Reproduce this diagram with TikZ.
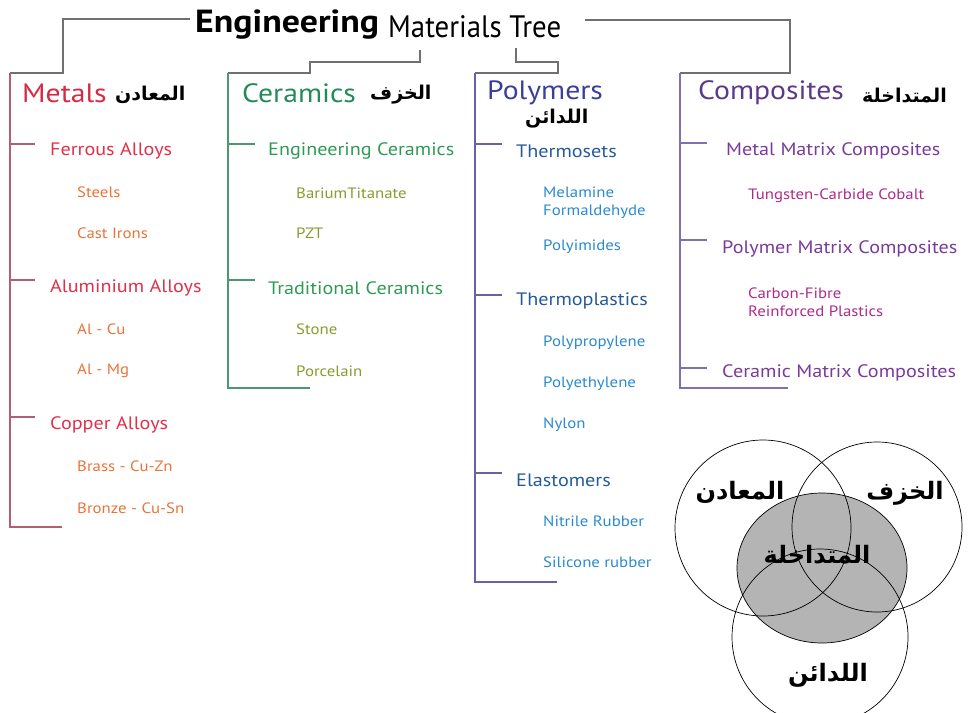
\documentclass[tikz,border=0pt]{standalone}
\usepackage{fontspec}
\setmainfont[FakeStretch=1.12]{PT Sans}
\newfontfamily\arabicfont[Script=Arabic]{DejaVu Sans}
\TeXXeTstate=1
\usetikzlibrary{shapes.geometric}
\newcommand{\artxt}[1]{{\arabicfont\bfseries\beginR #1\endR}}

% colours of the four families
\definecolor{linkgray}{HTML}{707070}
\definecolor{metTrunk}{HTML}{B06070}
\definecolor{metHead}{HTML}{D42A45}
\definecolor{metCat}{HTML}{E0304A}
\definecolor{metItem}{HTML}{E8743A}
\definecolor{cerTrunk}{HTML}{4A9A70}
\definecolor{cerHead}{HTML}{238A5A}
\definecolor{cerCat}{HTML}{2F9A55}
\definecolor{cerItem}{HTML}{8A9A30}
\definecolor{polTrunk}{HTML}{6A60A8}
\definecolor{polHead}{HTML}{3B3F9A}
\definecolor{polCat}{HTML}{245A9A}
\definecolor{polItem}{HTML}{2A8AD0}
\definecolor{comTrunk}{HTML}{8070B0}
\definecolor{comHead}{HTML}{5A3A8A}
\definecolor{comCat}{HTML}{7A3A9A}
\definecolor{comItem}{HTML}{B02A8A}
\definecolor{venngray}{HTML}{B4B4B4}

\tikzset{
  head/.style={anchor=west, inner sep=0pt, font=\fontsize{26.5}{28}\selectfont},
  cat/.style={anchor=west, inner sep=0pt, font=\fontsize{18}{20}\selectfont},
  item/.style={anchor=west, inner sep=0pt, align=left, font=\fontsize{15}{18}\selectfont},
  arhead/.style={anchor=west, inner sep=0pt, font=\fontsize{19}{21}\selectfont},
  link/.style={draw=linkgray, line width=1.4pt},
  trunk/.style={line width=1.4pt},
  vcircle/.style={circle, draw=black, line width=0.7pt, inner sep=0pt},
  vlabel/.style={inner sep=0pt, font=\fontsize{24}{26}\selectfont},
}

\begin{document}
\begin{tikzpicture}[x=1pt, y=-1pt]
\useasboundingbox (0,0) rectangle (968,712);

% ---------- title ----------
\node[anchor=base west, inner sep=0pt, font=\bfseries\fontsize{32}{34}\selectfont] (title) at (195,32) {Engineering};
\node[anchor=base west, inner sep=0pt, font=\fontsize{31}{33}\selectfont, xscale=0.83] (title2) at (388,37) {Materials Tree};

% ---------- connectors from the title ----------
\coordinate (tL) at (190,19);
\coordinate (tR) at (585,20);
\coordinate (tC) at (420,50);
\coordinate (tP) at (516,48);

\coordinate (metTop) at (10,73);
\coordinate (cerTop) at (228,73);
\coordinate (polTop) at (475,73);
\coordinate (comTop) at (680,73);

\draw[link] (tL) -- (63,19) -- (63,73) -- (metTop);
\draw[link] (tC) -- (420,62) -- (310,62) -- (310,73) -- (cerTop);
\draw[link] (tP) -- (516,62) -- (558,62) -- (558,73) -- (polTop);
\draw[link] (tR) -- (790,20) -- (790,73) -- (comTop);

% ---------- trunks ----------
\coordinate (metBot) at (10,527);
\coordinate (cerBot) at (228,388);
\coordinate (polBot) at (475,582);
\coordinate (comBot) at (680,388);
\draw[trunk, metTrunk] (metTop) -- (metBot) -- ++(52,0);
\draw[trunk, cerTrunk] (cerTop) -- (cerBot) -- ++(82,0);
\draw[trunk, polTrunk] (polTop) -- (polBot) -- ++(82,0);
\draw[trunk, comTrunk] (comTop) -- (comBot) -- ++(108,0);

\foreach \y [count=\i] in {144,280,417}{
  \coordinate (mt\i) at (10,\y);
  \draw[trunk, metTrunk] (mt\i) -- ++(25,0);
}
\foreach \y [count=\i] in {144,280}{
  \coordinate (ct\i) at (228,\y);
  \draw[trunk, cerTrunk] (ct\i) -- ++(27,0);
}
\foreach \y [count=\i] in {144,295,473}{
  \coordinate (pt\i) at (475,\y);
  \draw[trunk, polTrunk] (pt\i) -- ++(27,0);
}
\foreach \y [count=\i] in {143,240,368}{
  \coordinate (kt\i) at (680,\y);
  \draw[trunk, comTrunk] (kt\i) -- ++(27,0);
}

% ---------- headings ----------
\node[head, text=metHead] (metals) at (22,93) {Metals};
\node[arhead] (metalsAr) at (115,95) {\artxt{المعادن}};
\node[head, text=cerHead] (ceramics) at (242,93) {Ceramics};
\node[arhead] (ceramicsAr) at (370,95) {\artxt{الخزف}};
\node[head, text=polHead] (polymers) at (487,93) {Polymers};
\node[arhead] (polymersAr) at (525,119) {\artxt{اللدائن}};
\node[head, text=comHead] (composites) at (698,93) {Composites};
\node[arhead] (compositesAr) at (862,96) {\artxt{المتداخلة}};

% ---------- metals ----------
\node[cat, text=metCat] (ferrous) at (50,151) {Ferrous Alloys};
\node[item, text=metItem] (steels) at (77,192) {Steels};
\node[item, text=metItem] (castiron) at (77,233) {Cast Irons};
\node[cat, text=metCat] (alu) at (50,288) {Aluminium Alloys};
\node[item, text=metItem] (alcu) at (77,329) {Al - Cu};
\node[item, text=metItem] (almg) at (77,371) {Al - Mg};
\node[cat, text=metCat] (copper) at (50,425) {Copper Alloys};
\node[item, text=metItem] (brass) at (77,466) {Brass - Cu-Zn};
\node[item, text=metItem] (bronze) at (77,508) {Bronze - Cu-Sn};

% ---------- ceramics ----------
\node[cat, text=cerCat] (engcer) at (268,151) {Engineering Ceramics};
\node[item, text=cerItem] (barium) at (296,193) {BariumTitanate};
\node[item, text=cerItem] (pzt) at (296,233) {PZT};
\node[cat, text=cerCat] (tradcer) at (268,288) {Traditional Ceramics};
\node[item, text=cerItem] (stone) at (296,329) {Stone};
\node[item, text=cerItem] (porcelain) at (296,371) {Porcelain};

% ---------- polymers ----------
\node[cat, text=polCat] (thermosets) at (516,151) {Thermosets};
\node[item, text=polItem] (melamine) at (543,203) {Melamine\\Formaldehyde};
\node[item, text=polItem] (polyimides) at (543,247) {Polyimides};
\node[cat, text=polCat] (thermoplastics) at (516,301) {Thermoplastics};
\node[item, text=polItem] (pp) at (543,343) {Polypropylene};
\node[item, text=polItem] (pe) at (543,384) {Polyethylene};
\node[item, text=polItem] (nylon) at (543,425) {Nylon};
\node[cat, text=polCat] (elastomers) at (516,480) {Elastomers};
\node[item, text=polItem] (nitrile) at (543,521) {Nitrile Rubber};
\node[item, text=polItem] (silicone) at (543,562) {Silicone rubber};

% ---------- composites ----------
\node[cat, text=comCat] (mmc) at (726,151) {Metal Matrix Composites};
\node[item, text=comItem] (wc) at (748,196) {Tungsten-Carbide Cobalt};
\node[cat, text=comCat] (pmc) at (722,249) {Polymer Matrix Composites};
\node[item, text=comItem] (cfrp) at (748,302) {Carbon-Fibre\\Reinforced Plastics};
\node[cat, text=comCat] (cmc) at (722,373) {Ceramic Matrix Composites};

% ---------- Venn diagram ----------
\node[ellipse, draw=black, line width=0.7pt, fill=venngray, minimum width=170pt, minimum height=150pt, inner sep=0pt] (vComp) at (822,568) {};
\node[vcircle, minimum size=176pt] (vMet) at (763,528) {};
\node[vcircle, minimum size=170pt] (vCer) at (877,527) {};
\node[vcircle, minimum size=176pt] (vPol) at (820,637) {};

\node[vlabel] (vMetL) at (740,492) {\artxt{المعادن}};
\node[vlabel] (vCerL) at (905,493) {\artxt{الخزف}};
\node[vlabel] (vCompL) at (817,555) {\artxt{المتداخلة}};
\node[vlabel] (vPolL) at (828,675) {\artxt{اللدائن}};
\end{tikzpicture}
\end{document}
